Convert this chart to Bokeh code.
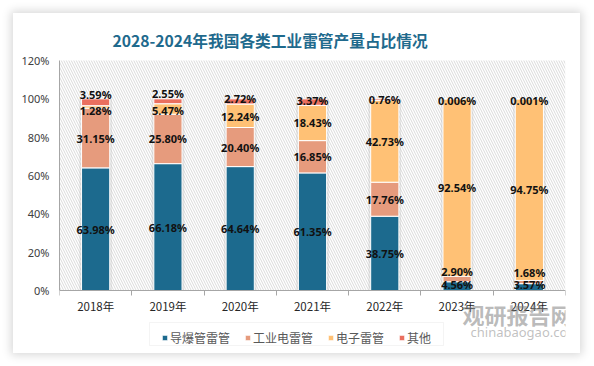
from bokeh.plotting import figure
from bokeh.models import (ColumnDataSource, FixedTicker, Legend, LegendItem, Label, Range1d,
                          BoxAnnotation)
from bokeh.embed import file_html
from bokeh.resources import INLINE
from bokeh.core.properties import value

# ---------------- data ----------------
years = ["2018年", "2019年", "2020年", "2021年", "2022年", "2023年", "2024年"]
series_names = ["导爆管雷管", "工业电雷管", "电子雷管", "其他"]
detonating_tube = [63.98, 66.18, 64.64, 61.35, 38.75, 4.56, 3.57]
electric = [31.15, 25.80, 20.40, 16.85, 17.76, 2.90, 1.68]
electronic = [1.28, 5.47, 12.24, 18.43, 42.73, 92.54, 94.75]
other = [3.59, 2.55, 2.72, 3.37, 0.76, 0.006, 0.001]
y_ticks = [0, 20, 40, 60, 80, 100, 120]
title_text = "2028-2024年我国各类工业雷管产量占比情况"

# ---------------- style ----------------
colors = ["#1C6A8E", "#E69B7D", "#FFC175", "#EA6F5F"]
# label nudges in pixels (negative = up), per series per year
nudges = [
    [0, 0, 0, 0, 0, -2, -3],
    [0, 0, 0, 0, 0, -7, -10],
    [4, 2, 1, 0, 0, 0, 0],
    [-8, -7.5, -3, -2, 0, 2, 2],
]
W, H = 567, 340
ML, MR, MB = 46, 15, 5
top_px = 47.0                         # space above the 120 % line
axis_px = 230.0                       # pixel height of 0..120 %
below_px = H - MB - top_px - axis_px  # frame space below the 0 line
px_per_unit = axis_px / 120.0
y_min = -below_px / px_per_unit
y_max = 120 + top_px / px_per_unit
fb = H - MB  # frame bottom in figure pixels

series = [detonating_tube, electric, electronic, other]
n = len(years)
xs = [i + 0.5 for i in range(n)]

p = figure(width=W, height=H, x_range=Range1d(0, n), y_range=Range1d(y_min, y_max),
           output_backend="svg", toolbar_location=None,
           min_border_left=ML, min_border_right=MR, min_border_top=0, min_border_bottom=MB,
           margin=(13, 0, 0, 13))
p.styles = {"box-shadow": "0px 0px 9px 2px rgba(0,0,0,0.16)"}
p.outline_line_color = None
p.background_fill_color = "white"
p.border_fill_color = "white"
p.xgrid.visible = False
p.ygrid.visible = False

# hatched plot area
p.quad(left=[0], right=[n], bottom=[0], top=[120], fill_color="white", line_color=None,
       hatch_pattern="\\", hatch_color="#dadada", hatch_scale=5, hatch_weight=1)

# bar shadow
totals = [sum(s[i] for s in series) for i in range(n)]
p.vbar(x=xs, top=totals, bottom=0, width=0.45, fill_color="#bdbdbd", fill_alpha=0.35,
       line_color=None)

bottoms = [0.0] * n
renderers = []
lab_x, lab_y, lab_t = [], [], []
for k, (name, vals) in enumerate(zip(series_names, series)):
    tops = [b + v for b, v in zip(bottoms, vals)]
    src = ColumnDataSource(dict(x=xs, bottom=bottoms, top=tops))
    r = p.vbar(x="x", bottom="bottom", top="top", width=0.39, source=src,
               fill_color=colors[k], line_color="white", line_width=1)
    renderers.append(r)
    for i in range(n):
        center = bottoms[i] + vals[i] / 2.0
        lab_x.append(xs[i])
        lab_y.append(center - nudges[k][i] / px_per_unit)
        v = vals[i]
        lab_t.append(f"{v:.3f}%" if v < 0.01 else f"{v:.2f}%")
    bottoms = tops

p.text(x=lab_x, y=lab_y, text=lab_t, text_align="center", text_baseline="middle",
       text_font=value("Noto Sans"), text_font_size="11px", text_font_style="bold",
       text_color="#111111")

# axes
p.xaxis.fixed_location = 0
p.xaxis.ticker = FixedTicker(ticks=xs, minor_ticks=list(range(n + 1)))
p.xaxis.major_label_overrides = {x: y for x, y in zip(xs, years)}
p.xaxis.major_tick_line_color = None
p.xaxis.major_tick_out = 4
p.xaxis.major_tick_in = 0
p.xaxis.minor_tick_line_color = "#a6a6a6"
p.xaxis.minor_tick_out = 5
p.xaxis.minor_tick_in = 0
p.xaxis.axis_line_color = "#a6a6a6"
p.xaxis.major_label_standoff = 2
p.xaxis.major_label_text_font = "Noto Sans CJK SC"
p.xaxis.major_label_text_font_size = "11.5px"
p.xaxis.major_label_text_color = "#262626"

p.yaxis.bounds = (0, 120)
p.yaxis.ticker = FixedTicker(ticks=y_ticks, minor_ticks=[])
p.yaxis.major_label_overrides = {t: f"{t}%" for t in y_ticks}
p.yaxis.major_tick_line_color = None
p.yaxis.major_tick_out = 0
p.yaxis.major_tick_in = 0
p.yaxis.minor_tick_line_color = None
p.yaxis.axis_line_color = "#a6a6a6"
p.yaxis.major_label_standoff = 10
p.yaxis.major_label_text_font = "Noto Sans"
p.yaxis.major_label_text_font_size = "11px"
p.yaxis.major_label_text_color = "#404040"

# title
p.add_layout(Label(x=99 - ML, y=fb - 27, x_units="screen", y_units="screen", text=title_text,
                   text_font="Noto Sans CJK SC", text_font_size="15.7px", text_font_style="bold",
                   text_color="#1F6A8D", text_baseline="middle"))

# legend box (screen units relative to the frame)
p.add_layout(BoxAnnotation(left=136 - ML, right=430 - ML, bottom=fb - 332, top=fb - 309,
                           left_units="screen", right_units="screen",
                           top_units="screen", bottom_units="screen",
                           fill_color="white", fill_alpha=1.0,
                           line_color="#d9d9d9", line_width=1, level="annotation"))

legend = Legend(items=[LegendItem(label=nm, renderers=[r]) for nm, r in zip(series_names, renderers)],
                orientation="horizontal", location=(102, 2), margin=0, padding=4,
                spacing=14, label_standoff=2, glyph_width=7, glyph_height=7,
                label_height=13, label_text_font="Noto Sans CJK SC", label_text_font_size="12px",
                label_text_color="#595959", border_line_color=None,
                background_fill_alpha=0.0)
p.add_layout(legend, "center")

# watermark
p.add_layout(Label(x=403, y=fb - 300, x_units="screen", y_units="screen", text="观研报告网",
                   text_font="Noto Sans CJK SC", text_font_size="22px", text_font_style="bold",
                   text_color="#7f7f7f", text_alpha=0.55, text_baseline="middle"))
p.add_layout(Label(x=411, y=fb - 318, x_units="screen", y_units="screen", text="chinabaogao.com",
                   text_font="Noto Sans", text_font_size="13px",
                   text_color="#8c8c8c", text_alpha=0.55, text_baseline="middle"))

open("out.html", "w").write(file_html(p, INLINE))
